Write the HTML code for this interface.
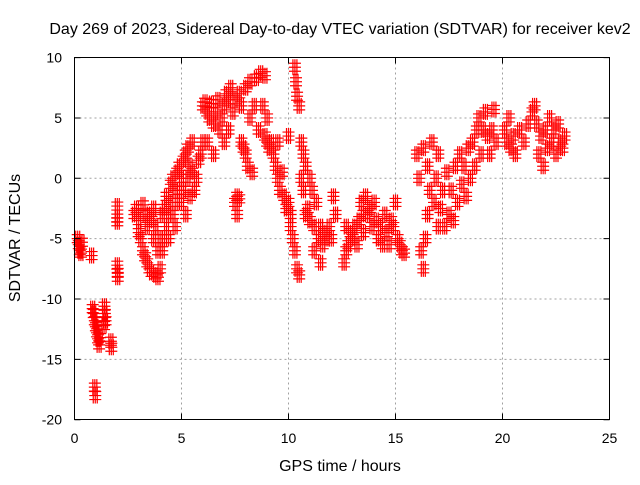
<!DOCTYPE html>
<html><head><meta charset="utf-8"><style>
body{margin:0;background:#fff;}
svg text{font-family:"Liberation Sans",sans-serif;font-size:14px;fill:#000;}
svg text.big{font-size:16px;}
</style></head><body>
<svg id="chart" width="640" height="480" xmlns="http://www.w3.org/2000/svg">
<text class="big" x="340" y="34" text-anchor="middle">Day 269 of 2023, Sidereal Day-to-day VTEC variation (SDTVAR) for receiver kev2</text>
<text class="big" x="340" y="471" text-anchor="middle">GPS time / hours</text>
<text class="big" transform="translate(20,238) rotate(-90)" text-anchor="middle">SDTVAR / TECUs</text>
<g id="grid"></g>
<g id="marks"></g>
<rect x="74.5" y="57.5" width="535" height="362" fill="none" stroke="#000" stroke-width="1"/>
<g id="ticks"></g>
</svg>
<script>
const xTicks=[0,5,10,15,20,25];
const yTicks=[-20,-15,-10,-5,0,5,10];
const hours=[0.15,0.2,0.25,0.3,0.35,0.8,0.85,0.9,0.95,1.0,1.05,1.1,1.15,1.2,0.95,0.97,1.4,1.42,1.45,1.38,1.7,1.72,2.0,2.0,2.0,2.0,2.02,2.02,
2.8,2.9,3.0,3.0,3.1,3.2,3.2,3.3,3.3,3.4,3.4,3.5,3.5,3.6,3.6,3.7,3.7,3.8,3.8,3.9,3.9,4.0,4.0,4.1,4.1,4.2,4.2,4.3,4.3,4.4,4.4,4.5,4.5,4.6,4.6,4.7,4.7,4.8,4.8,4.9,4.9,5.0,5.0,5.1,5.1,5.2,5.2,5.3,5.3,5.4,5.4,5.5,5.5,5.6,5.7,5.8,5.9,6.0,6.0,6.1,6.2,6.2,6.3,6.4,6.5,6.5,6.6,6.7,6.8,6.9,7.0,7.0,7.1,7.2,7.2,7.3,7.4,7.5,7.5,7.6,7.6,7.7,7.7,7.8,7.8,7.9,8.0,8.0,8.1,8.2,8.2,8.3,8.4,8.5,8.6,8.7,8.8,8.9,8.9,9.0,9.0,9.1,9.2,9.3,9.4,9.5,9.5,9.6,9.7,9.8,9.9,10.0,10.0,10.1,10.1,10.2,10.3,10.35,10.4,10.3,10.4,10.5,10.5,10.6,10.6,10.7,10.7,10.8,10.8,10.9,11.0,11.0,11.1,11.2,11.2,11.3,11.4,11.5,11.5,11.6,11.7,11.8,11.9,12.0,12.1,12.2,
12.6,12.7,12.7,12.8,12.9,13.0,13.1,13.2,13.3,13.4,13.5,13.5,13.6,13.7,13.8,13.9,14.0,14.1,14.2,14.3,14.4,14.5,14.6,14.7,14.8,14.9,15.0,15.1,15.2,15.3,15.4,
16.0,16.1,16.2,16.3,16.3,16.4,16.5,16.5,16.6,16.7,16.8,16.9,17.0,17.0,17.1,17.2,17.3,17.4,17.5,17.6,17.7,17.8,17.9,18.0,18.1,18.2,18.3,18.4,18.5,18.6,18.7,18.8,18.9,19.0,19.1,19.2,19.3,19.4,19.5,19.6,19.7,
20.1,20.2,20.3,20.4,20.5,20.6,20.8,21.0,21.2,21.4,21.5,21.6,21.7,21.8,21.9,22.0,22.1,22.2,22.3,22.4,22.5,22.6,22.7,22.8,22.9];
const sdtvar=[-5,-5.5,-6,-6.2,-5.3,-6.4,-10.8,-11.2,-11.8,-12.3,-12.8,-13.3,-13.8,-13.2,-17.3,-18,-10.6,-11.2,-11.8,-12.2,-13.5,-14,-2.3,-3.3,-3.6,-7.2,-7.8,-8.2,
-3,-2.5,-3.5,-4.5,-5,-2.2,-6,-3,-6.5,-4,-7,-3,-7.5,-3.5,-7.8,-2.5,-5,-8,-4,-8.2,-6,-7.5,-5,-6,-3,-5,-2.5,-4,-1.5,-3,-5,-2,-0.5,-3,0,-1,-4,0.5,-2,-1,1,0,-2,1.5,-1,2,-3,2.5,0,1,-1.5,3,0.5,-1,0,1.5,2,3,6,6.3,5.5,3,5,6.2,4.5,2,5.5,6.5,4,5,6,3,7,6.5,4,7.5,5.5,6.5,-2,-1.5,-3,7,-1.7,3,6,2.5,7.5,2,1,8,5,0.5,6,8.3,4,8.7,6,3.5,8.5,5,3,2.5,3,2,1,3,0,-1,0.5,-1.5,-2.5,-2,3.5,-3,-4,-5,9.2,8,6.8,-6,-7.5,-8,6,3,0,-1,2,-3,1,-2.5,0,-3.5,-1,-4,-6,-2,-5,-4,-7,-5.5,-4.5,-5,-4,-5,-1.5,-3,
-7,-6,-4,-5.5,-4.5,-5,-4,-5.5,-3.5,-2,-3,-4.5,-1.5,-3,-2.5,-4,-2,-3.5,-5,-4,-5.5,-3,-4.5,-5.5,-3.5,-4,-2,-5,-5.5,-6,-6.2,
2,0,-6,-7.5,2.5,-5,1,-3,-1,3,-2,0,-4,2,-2.5,-1,-4,0.5,-3,-1,-3.5,1,-2,2,-0.5,1,-1.5,2.5,0,3,1,4,5,2,4,5.5,3.5,2,4,5.7,3,
4,3,5,2.5,3.5,2,4,3,4.5,5.5,6,4.5,2,3.5,1,4,2.5,5,3,4,2,4.5,3,2.5,3.5];
const X=h=>74.5+h*21.4;
const Y=v=>178.3-v*12.07;
const NS='http://www.w3.org/2000/svg';
const grid=document.getElementById('grid'),ticks=document.getElementById('ticks'),marks=document.getElementById('marks');
function mk(tag,attrs,parent){const e=document.createElementNS(NS,tag);for(const k in attrs)e.setAttribute(k,attrs[k]);parent.appendChild(e);return e;}
xTicks.forEach(t=>{const x=X(t);
 if(t>0&&t<25){const g=mk('line',{x1:x,x2:x,y1:57.5,y2:419.5,stroke:'#a0a0a0','stroke-dasharray':'2,3'},grid);
  
  }
 const tk=mk('path',{d:`M${x},419.5v-6M${x},57.5v6`,stroke:'#000'},ticks);
 
 
 const l=mk('text',{x:x,y:443,'text-anchor':'middle'},ticks);l.textContent=t;
 
 
});
yTicks.forEach(t=>{const y=Y(t);
 if(t>-20&&t<10){const g=mk('line',{x1:74.5,x2:609.5,y1:y,y2:y,stroke:'#a0a0a0','stroke-dasharray':'2,3'},grid);
  
  }
 const tk=mk('path',{d:`M74.5,${y}h6M609.5,${y}h-6`,stroke:'#000'},ticks);
 
 
 const l=mk('text',{x:62,y:y+5,'text-anchor':'end'},ticks);l.textContent=t;
 
 
});
hours.forEach((h,i)=>{const x=X(h),y=Y(sdtvar[i]);
 let d='';[-4,0,4].forEach(o=>{[-2,0,2].forEach(p=>{d+=`M${x-4+p},${y+o}h8M${x+p},${y+o-4}v8`;});});
 const m=mk('path',{d:d,stroke:'#ff0000','stroke-width':1.2,fill:'none'},marks);
 
 
});
</script>
</body></html>
